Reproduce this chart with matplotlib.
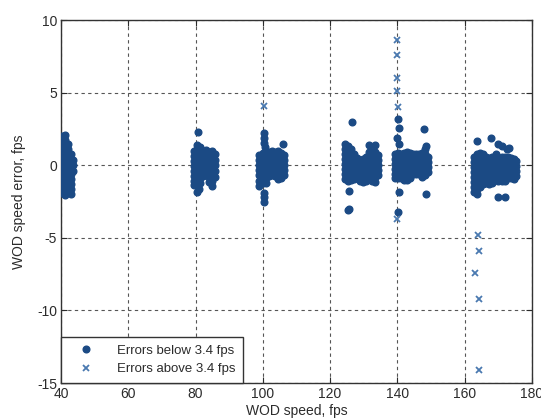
import numpy as np
import matplotlib.pyplot as plt

plt.rcParams['font.family'] = ['Liberation Sans', 'DejaVu Sans']
plt.rcParams['axes.unicode_minus'] = False

# speed clusters: each speed column has its own list of errors (fps)
c1_speed = [40.4, 41.2, 42.0, 42.8, 43.5]
c1_err = [[2.0, 1.6, 1.25, 0.9, 0.55, 0.2, -0.15, -0.5, -0.85, -1.2, -1.55, -1.9],
          [2.1, 1.75, 1.4, 1.05, 0.7, 0.35, 0.0, -0.35, -0.7, -1.05, -1.4, -1.75, -2.05],
          [1.5, 1.1, 0.75, 0.4, 0.05, -0.3, -0.6],
          [0.8, 0.45, 0.1, -0.25, -0.6, -0.95, -1.3, -1.65, -1.95],
          [0.4, 0.0, -0.4]]

c2_speed = [79.6, 80.5, 81.4, 82.3, 83.2, 84.1, 85.0, 85.8]
c2_err = [[1.0, 0.65, 0.3, -0.05, -0.4, -0.75, -1.1, -1.35],
          [1.4, 1.1, 0.75, 0.4, 0.05, -0.3, -0.65, -1.0, -1.3],
          [1.25, 0.9, 0.55, 0.2, -0.15, -0.5, -0.85, -1.2],
          [1.0, 0.65, 0.3, -0.05, -0.4, -0.75],
          [1.05, 0.7, 0.35, 0.0, -0.35, -0.7],
          [0.95, 0.6, 0.25, -0.1, -0.45, -0.8, -1.15],
          [1.0, 0.65, 0.3, -0.05, -0.4, -0.75, -1.1, -1.4],
          [0.8, 0.4, 0.0, -0.4, -0.8]]

c3_speed = [99.0, 99.9, 100.8, 101.7, 102.6, 103.5, 104.4, 105.3, 106.2]
c3_err = [[0.7, 0.35, 0.0, -0.35, -0.7, -1.05, -1.4],
          [0.85, 0.5, 0.15, -0.2, -0.55, -0.9, -1.25],
          [0.9, 0.55, 0.2, -0.15, -0.5, -0.85, -1.2],
          [0.95, 0.6, 0.25, -0.1, -0.45, -0.75],
          [1.0, 0.65, 0.3, -0.05, -0.4, -0.7],
          [0.9, 0.55, 0.2, -0.15, -0.5, -0.75],
          [1.0, 0.65, 0.3, -0.05, -0.4, -0.75, -0.95],
          [0.85, 0.5, 0.15, -0.2, -0.55, -0.9],
          [0.7, 0.35, 0.0, -0.35, -0.7]]

c4_speed = [124.4, 125.3, 126.2, 127.1, 128.0, 128.9, 129.8, 130.7, 131.6, 132.5, 133.4, 134.2]
c4_err = [[1.5, 1.15, 0.8, 0.45, 0.1, -0.25, -0.6, -0.95],
          [1.3, 0.95, 0.6, 0.25, -0.1, -0.45, -0.8, -1.05],
          [1.1, 0.75, 0.4, 0.05, -0.3, -0.65, -1.0],
          [0.8, 0.45, 0.1, -0.25, -0.6, -0.95],
          [0.5, 0.15, -0.2, -0.55, -0.9],
          [0.35, 0.0, -0.35, -0.7, -1.05],
          [0.45, 0.1, -0.25, -0.6, -0.95, -1.15],
          [0.6, 0.25, -0.1, -0.45, -0.8, -1.1],
          [0.9, 0.55, 0.2, -0.15, -0.5, -0.85],
          [1.0, 0.65, 0.3, -0.05, -0.4, -0.75, -1.1],
          [0.95, 0.6, 0.25, -0.1, -0.45, -0.8, -1.15],
          [0.7, 0.35, 0.0, -0.35, -0.7]]

c5_speed = [139.3, 140.2, 141.1, 142.0, 142.9, 143.8, 144.7, 145.6, 146.5, 147.4, 148.3, 149.1]
c5_err = [[0.8, 0.45, 0.1, -0.25, -0.6, -0.85],
          [0.85, 0.5, 0.15, -0.2, -0.55, -0.85],
          [0.8, 0.45, 0.1, -0.25, -0.6, -0.9],
          [0.85, 0.5, 0.15, -0.2, -0.55, -1.0],
          [0.9, 0.55, 0.2, -0.15, -0.5, -1.0],
          [0.85, 0.5, 0.15, -0.2, -0.55, -0.85],
          [0.8, 0.45, 0.1, -0.25, -0.6],
          [0.75, 0.4, 0.05, -0.3, -0.6],
          [0.8, 0.45, 0.1, -0.25, -0.6],
          [0.85, 0.5, 0.15, -0.2, -0.55, -0.8],
          [0.75, 0.4, 0.05, -0.3, -0.65],
          [0.6, 0.25, -0.1, -0.45]]

c6_speed = [162.9, 163.8, 164.7, 165.6, 166.5, 167.4, 168.3, 169.2, 170.1, 171.0, 171.9,
            172.8, 173.7, 174.6, 175.4]
c6_err = [[0.6, 0.25, -0.1, -0.45, -0.8, -1.15, -1.5, -1.85],
          [0.8, 0.45, 0.1, -0.25, -0.6, -0.95, -1.3, -1.65, -1.95],
          [0.85, 0.5, 0.15, -0.2, -0.55, -0.9, -1.25, -1.5],
          [0.75, 0.4, 0.05, -0.3, -0.65, -1.0, -1.3],
          [0.55, 0.2, -0.15, -0.5, -0.85, -1.2],
          [0.5, 0.15, -0.2, -0.55, -0.9, -1.3],
          [0.6, 0.25, -0.1, -0.45, -0.8, -1.2],
          [0.45, 0.1, -0.25, -0.6, -0.95],
          [0.5, 0.15, -0.2, -0.55, -0.85],
          [0.55, 0.2, -0.15, -0.5, -0.85, -1.1],
          [0.6, 0.25, -0.1, -0.45, -0.8, -1.05],
          [0.55, 0.2, -0.15, -0.5, -0.85],
          [0.5, 0.15, -0.2, -0.55, -0.9],
          [0.45, 0.1, -0.25, -0.6, -0.95],
          [0.3, -0.05, -0.4, -0.75]]

# stray small errors away from the cluster bodies
stray_speed = [80.7, 81.0, 80.4,
               100.3, 100.4, 100.2, 100.5, 106.0, 100.2, 100.4, 100.3,
               126.4, 131.5, 133.5, 125.6, 125.7, 125.4,
               140.2, 140.5, 140.0, 140.4, 147.8, 148.4, 148.2, 148.4, 140.4, 140.3,
               163.6, 168.0, 170.0, 171.2, 172.6, 173.2, 169.3, 169.8, 172.0, 169.9]
stray_err = [2.3, -1.6, -1.85,
             2.2, 1.85, 1.55, 1.25, 1.45, -1.9, -2.2, -2.55,
             3.0, 1.4, 1.4, -1.8, -3.0, -3.1,
             3.2, 2.6, 1.9, 1.45, 2.5, 1.3, 1.1, -2.0, -1.85, -3.2,
             1.7, 1.9, 1.5, 1.3, 1.1, 1.2, 0.75, -2.2, -2.15, -1.1]

# errors above 3.4 fps
big_speed = [100.4, 140.0, 139.9, 139.8, 140.0, 140.1, 139.8,
             164.0, 164.2, 163.0, 164.2, 164.2]
big_err = [4.1, 8.6, 7.6, 6.0, 5.1, 4.0, -3.7,
           -4.8, -5.9, -7.4, -9.2, -14.1]

speed_lo, err_lo = [], []
for speeds, errs in [(c1_speed, c1_err), (c2_speed, c2_err), (c3_speed, c3_err),
                     (c4_speed, c4_err), (c5_speed, c5_err), (c6_speed, c6_err)]:
    for s, col in zip(speeds, errs):
        speed_lo += [s] * len(col)
        err_lo += col
speed_lo += stray_speed
err_lo += stray_err

fig = plt.figure(figsize=(5.41, 4.2), dpi=100)
ax = fig.add_axes([0.113, 0.088, 0.870, 0.864])

ax.plot(speed_lo, err_lo, 'o', color='#1b4a84', ms=4.8, mec='#1b4a84',
        label='Errors below 3.4 fps', zorder=3)
ax.plot(big_speed, big_err, 'x', color='#4a79b0', ms=5.0, mew=1.3,
        label='Errors above 3.4 fps', zorder=3)

ax.set_xlim(40, 180)
ax.set_ylim(-15, 10)
ax.set_xticks(np.arange(40, 181, 20))
ax.set_yticks(np.arange(-15, 11, 5))
ax.grid(True, linestyle=(0, (3, 3)), color='#555555', linewidth=0.8)
ax.set_axisbelow(True)
ax.tick_params(direction='in', length=4, top=True, right=True,
               labelsize=10, colors='#2b2b2b', pad=3)
for sp in ax.spines.values():
    sp.set_color('#333333')
    sp.set_linewidth(1.0)

ax.set_xlabel('WOD speed, fps', fontsize=10, color='#2b2b2b', labelpad=2)
ax.set_ylabel('WOD speed error, fps', fontsize=10, color='#2b2b2b', labelpad=8)

leg = ax.legend(loc='lower left', bbox_to_anchor=(0, 0), borderaxespad=0,
                fontsize=9.5, fancybox=False, framealpha=1, edgecolor='#333333',
                handletextpad=1.0, borderpad=0.6, labelspacing=0.45,
                handlelength=2.6)
leg.get_frame().set_linewidth(1.0)
for t in leg.get_texts():
    t.set_color('#2b2b2b')

fig.savefig('out.png', dpi=100)
